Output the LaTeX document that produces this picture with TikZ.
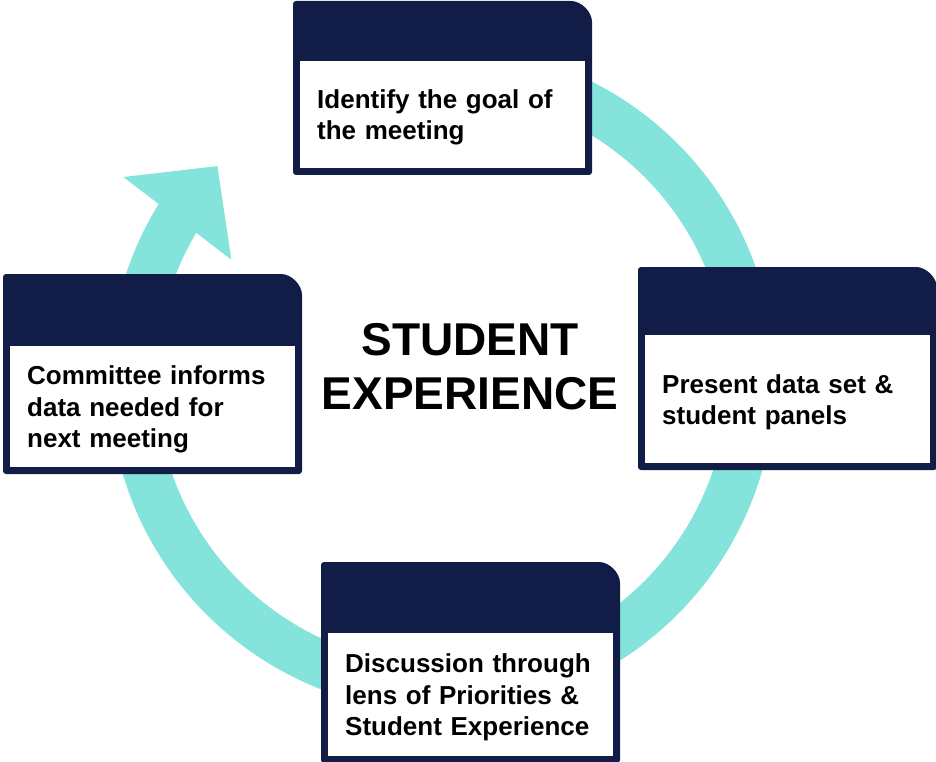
\documentclass[tikz,border=0pt]{standalone}
\usepackage{fontspec}
\setmainfont{Liberation Sans}
\usetikzlibrary{arrows.meta, bending}
\definecolor{cyclemint}{RGB}{132,227,218}
\definecolor{cardnavy}{RGB}{17,28,71}

\begin{document}
\begin{tikzpicture}[x=1pt, y=-1pt,
    ring/.style={line width=47pt, cyclemint, -{Triangle[length=66pt, width=132pt]}},
    card/.style={fill=white, anchor=north west, minimum width=285pt, text width=251pt,
      inner xsep=17pt, inner ysep=0pt, align=left,
      execute at begin node={\rule{0pt}{24.5pt}},
      font=\fontsize{26}{31.5}\selectfont\bfseries},
    title/.style={align=center, font=\fontsize{46}{54}\selectfont\bfseries}]
  \useasboundingbox (0,0) rectangle (936,762);
  \draw[ring] (442,379) ++(-100:309.5) arc[start angle=-100, end angle=223.5, radius=309.5];
  \foreach \cname/\cleft/\ctop/\chead/\chigh/\ctext in {
      goal/293/1/61/107/{Identify the goal of\\the meeting},
      present/638/267/335/128/{Present data set \&\\student panels},
      discuss/321/562/633/123/{Discussion through\\lens of Priorities \&\\Student Experience},
      inform/3/274/346/121/{Committee informs\\data needed for\\next meeting}} {
    \fill[cardnavy, rounded corners=3pt] (\cleft,{\chead+\chigh+7}) -- (\cleft,\ctop)
      -- ({\cleft+275},\ctop) arc[start angle=-90, end angle=0, radius=24]
      -- ({\cleft+299},{\chead+\chigh+7}) -- cycle;
    \node[card, minimum height={\chigh*1pt}] (\cname) at ({\cleft+7},\chead) {\ctext};
  }
  \node[title] (student) at (470,367) {STUDENT\\EXPERIENCE};
\end{tikzpicture}
\end{document}
